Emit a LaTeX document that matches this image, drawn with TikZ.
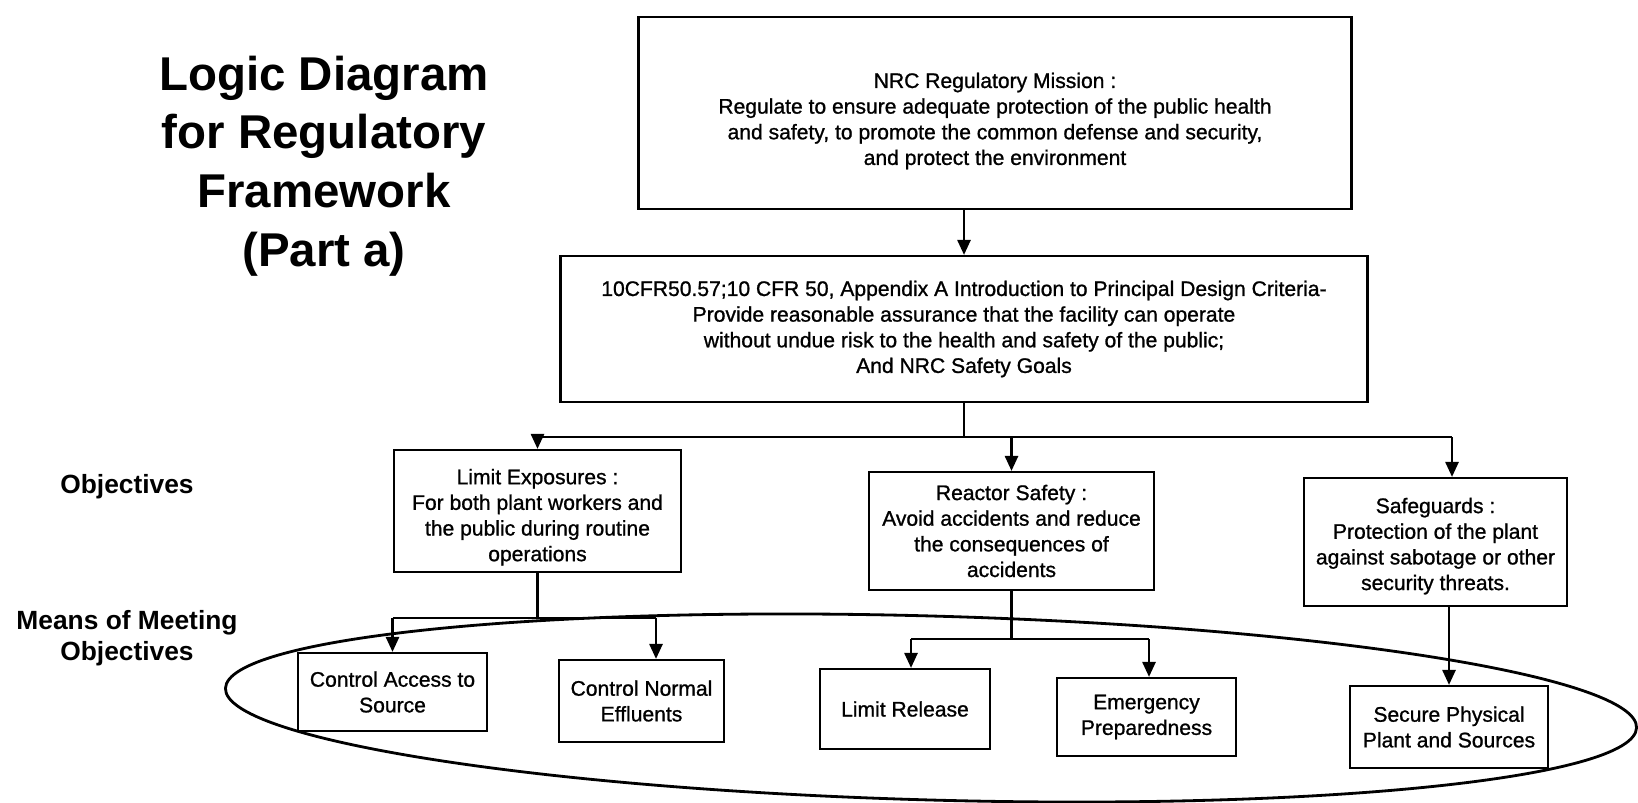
\documentclass[tikz,border=0pt]{standalone}
\usepackage{fontspec}
\setmainfont{Liberation Sans}
\newfontfamily\boxfont{Liberation Sans}[FakeBold=1]
\usetikzlibrary{arrows.meta}
\newcommand{\pushdown}[1]{\rule{0pt}{#1}}
\begin{document}
\begin{tikzpicture}[x=0.02cm,y=-0.02cm,
  box/.style={draw, line width=1.3pt, fill=white, align=center, inner sep=2pt, font=\boxfont\fontsize{12}{14.6}\selectfont},
  arr/.style={line width=1.2pt, -{Triangle[length=8.5pt,width=7.5pt]}},
  conn/.style={line width=1.2pt},
  lbl/.style={align=center, font=\fontsize{15}{17.8}\selectfont\bfseries},
  ttl/.style={align=center, font=\fontsize{27}{33.4}\selectfont\bfseries},
]
\useasboundingbox (0,0) rectangle (1638,803);

% enclosing ellipse of the means
\draw[line width=1.6pt, rotate around={-1.6:(931,708)}] (931,708) ellipse [x radius=14.12cm, y radius=1.84cm];

% title and side labels
\node[ttl] (title) at (324,166) {Logic Diagram\\for Regulatory\\Framework\\(Part a)};
\node[lbl] (objlbl) at (127,487) {Objectives};
\node[lbl] (meanslbl) at (127,638) {Means of Meeting\\Objectives};

% boxes
\node[box, minimum width=14.26cm, minimum height=3.84cm] (mission) at (995,113)
  {\pushdown{17.8pt}NRC Regulatory Mission :\\Regulate to ensure adequate protection of the public health\\and safety, to promote the common defense and security,\\and protect the environment};
\node[box, minimum width=16.14cm, minimum height=2.92cm] (pdc) at (964,329)
  {10CFR50.57;10 CFR 50, Appendix A Introduction to Principal Design Criteria-\\Provide reasonable assurance that the facility can operate\\without undue risk to the health and safety of the public;\\And NRC Safety Goals};
\node[box, minimum width=5.74cm, minimum height=2.44cm] (le) at (537.5,511)
  {\pushdown{15.8pt}Limit Exposures :\\For both plant workers and\\the public during routine\\operations};
\node[box, minimum width=5.7cm, minimum height=2.36cm] (rs) at (1011.5,531)
  {Reactor Safety :\\Avoid accidents and reduce\\the consequences of\\accidents};
\node[box, minimum width=5.26cm, minimum height=2.56cm] (sg) at (1435.5,542)
  {\pushdown{13.4pt}Safeguards :\\Protection of the plant\\against sabotage or other\\security threats.};
\node[box, minimum width=3.78cm, minimum height=1.56cm] (cas) at (392.5,692)
  {Control Access to\\Source};
\node[box, minimum width=3.3cm, minimum height=1.64cm] (cne) at (641.5,701)
  {Control Normal\\Effluents};
\node[box, minimum width=3.4cm, minimum height=1.6cm] (lr) at (905,709)
  {Limit Release};
\node[box, minimum width=3.58cm, minimum height=1.56cm] (ep) at (1146.5,717)
  {Emergency\\Preparedness};
\node[box, minimum width=3.96cm, minimum height=1.64cm] (spp) at (1449,727)
  {Secure Physical\\Plant and Sources};

% connector branch points
\coordinate (busL) at (537.5,437);
\coordinate (busR) at (1452,437);
\coordinate (b2L) at (392.5,618);
\coordinate (b2R) at (656,618);
\coordinate (b3L) at (911,639);
\coordinate (b3R) at (1149,639);

% connectors
\draw[arr] (mission.south -| pdc.north) -- (pdc.north);
\draw[conn] (pdc.south) -- (pdc.south |- busL);
\draw[conn] (busL) -- (busR);
\draw[arr] (busL) -- (le.north);
\draw[arr] (rs.north |- busL) -- (rs.north);
\draw[arr] (busR) -- (busR |- sg.north);

\draw[conn] (le.south) -- (le.south |- b2L);
\draw[conn] (b2L) -- (b2R);
\draw[arr] (b2L) -- (cas.north);
\draw[arr] (b2R) -- (b2R |- cne.north);

\draw[conn] (rs.south) -- (rs.south |- b3L);
\draw[conn] (b3L) -- (b3R);
\draw[arr] (b3L) -- (b3L |- lr.north);
\draw[arr] (b3R) -- (b3R |- ep.north);

\draw[arr] (spp.north |- sg.south) -- (spp.north);
\end{tikzpicture}
\end{document}
